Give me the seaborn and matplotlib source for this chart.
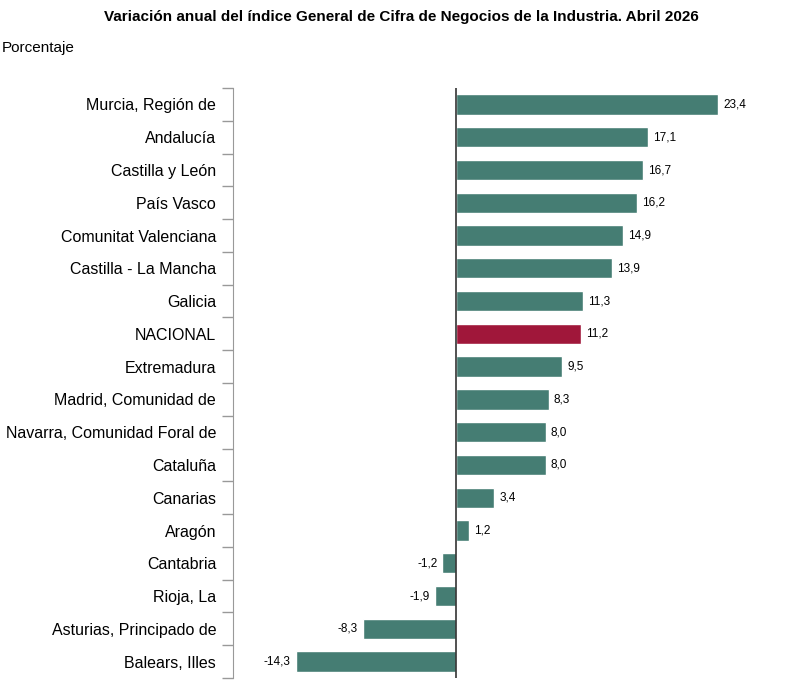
import matplotlib
matplotlib.use("Agg")
import matplotlib.pyplot as plt
import numpy as np
import pandas as pd
import seaborn as sns

regions = ["Murcia, Región de", "Andalucía", "Castilla y León", "País Vasco",
           "Comunitat Valenciana", "Castilla - La Mancha", "Galicia", "NACIONAL",
           "Extremadura", "Madrid, Comunidad de", "Navarra, Comunidad Foral de",
           "Cataluña", "Canarias", "Aragón", "Cantabria", "Rioja, La",
           "Asturias, Principado de", "Balears, Illes"]
values = [23.4, 17.1, 16.7, 16.2, 14.9, 13.9, 11.3, 11.2, 9.5, 8.3, 8.0,
          8.0, 3.4, 1.2, -1.2, -1.9, -8.3, -14.3]

df = pd.DataFrame({"region": regions, "value": values})
colors = ["#a0173a" if r == "NACIONAL" else "#457d73" for r in regions]

sns.set_style("white")
plt.rcParams["font.family"] = ["Liberation Sans", "DejaVu Sans"]
plt.rcParams["text.color"] = "black"
plt.rcParams["ytick.color"] = "#999999"
plt.rcParams["ytick.labelcolor"] = "black"

fig = plt.figure(figsize=(8.03, 6.88), dpi=100)
ax = fig.add_axes([0.290, 0.0145, 0.656, 0.8575])
sns.barplot(data=df, y="region", x="value", hue="region", palette=colors,
            legend=False, width=0.62, ax=ax, saturation=1)

ax.set_xlim(-19.9, 27.1)
ax.set_ylim(len(regions) - 0.5, -0.5)
ax.axvline(0, color="#333333", lw=1.2)
for i, v in enumerate(values):
    off = 0.45 if v >= 0 else -0.45
    ax.text(v + off, i, f"{v:.1f}".replace(".", ","), va="center",
            ha="left" if v >= 0 else "right", fontsize=8.5, color="black")

for s in ["top", "right", "bottom"]:
    ax.spines[s].set_visible(False)
ax.spines["left"].set_color("#999999")
ax.set_xticks([])
ax.set_yticks(np.arange(len(regions)))
ax.set_yticklabels(regions, fontsize=11.5)
ax.set_yticks(np.arange(-0.5, len(regions)), minor=True)
ax.tick_params(axis="y", which="major", left=False, length=0, pad=12)
ax.tick_params(axis="y", which="minor", left=True, length=8, width=1,
               color="#999999", direction="out")
ax.set_xlabel("")
ax.set_ylabel("")

fig.text(0.5, 0.985, "Variación anual del índice General de Cifra de Negocios de la Industria. Abril 2026",
         ha="center", va="top", fontsize=11, fontweight="bold")
fig.text(0.002, 0.93, "Porcentaje", ha="left", va="center", fontsize=11)

fig.savefig("out.png", dpi=100)
